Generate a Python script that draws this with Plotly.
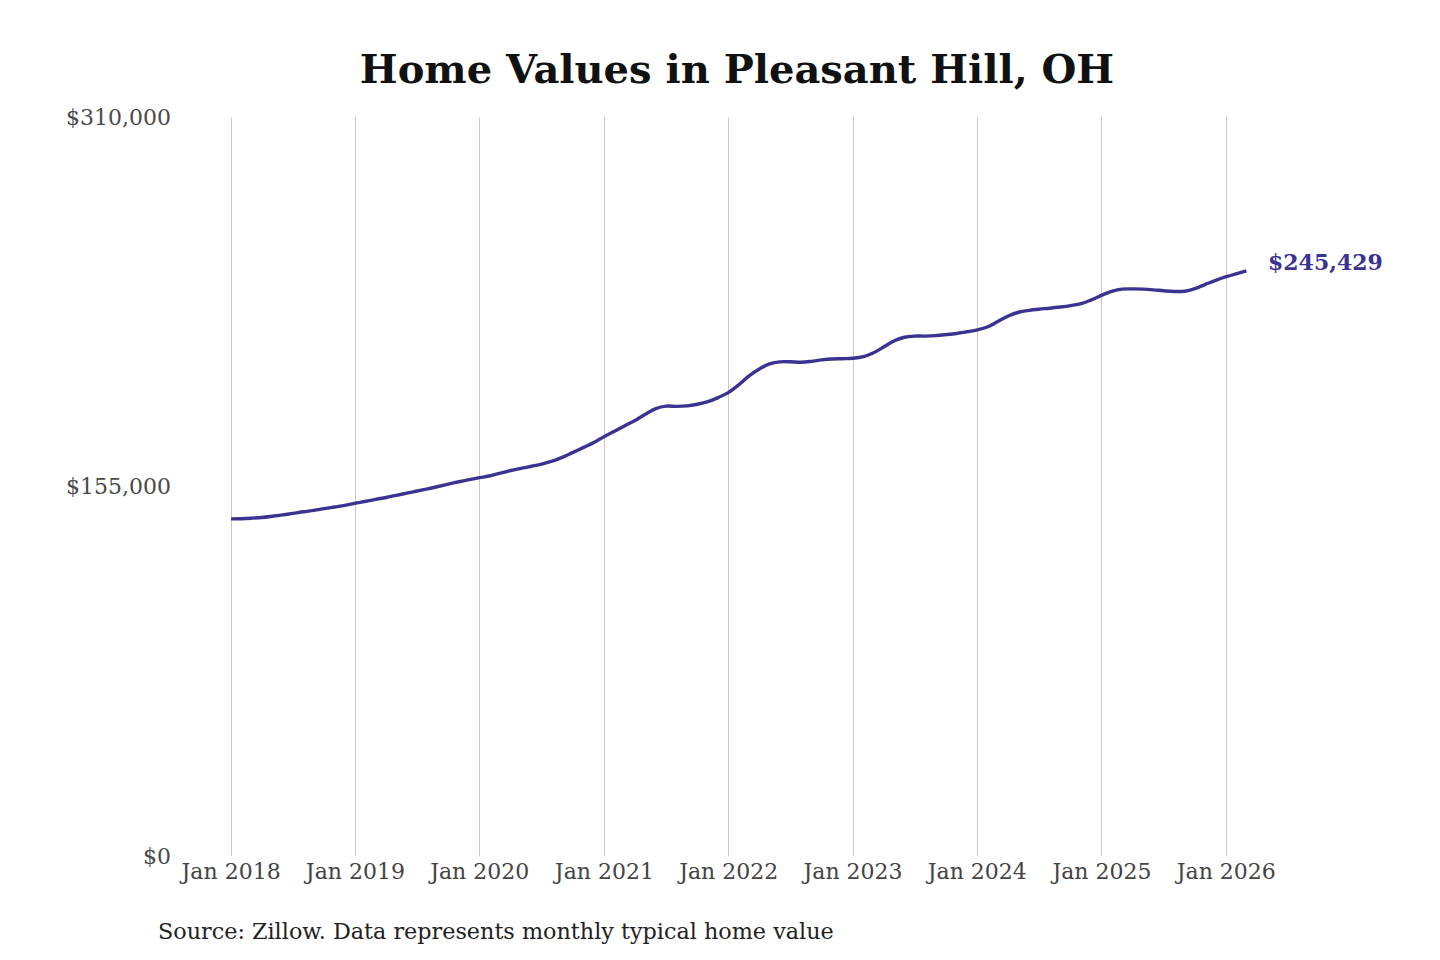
import pandas as pd
import plotly.graph_objects as go

# monthly typical home value, Jan 2018 .. Mar 2026
start_month = "2018-01-01"
values = [
    141400, 141500, 141700, 142000, 142500, 143100, 143700, 144400, 145000, 145700, 146400, 147100,
    148000, 148800, 149600, 150400, 151300, 152200, 153100, 154000, 155000, 156000, 157000, 157900,
    158700, 159500, 160600, 161700, 162600, 163500, 164400, 165600, 167300, 169300, 171400, 173500,
    176000, 178300, 180400, 182700, 185300, 187700, 188700, 188600, 188800, 189500, 190600, 192300,
    194500, 197800, 201300, 204300, 206400, 207300, 207300, 207100, 207500, 208100, 208500, 208600,
    208800, 209500, 211000, 213500, 216000, 217600, 218100, 218100, 218300, 218700, 219200, 219900,
    220700, 222000, 224200, 226500, 228100, 228900, 229400, 229800, 230300, 230900, 231700, 233300,
    235300, 237000, 237800, 237900, 237800, 237500, 237100, 236800, 236900, 238000, 239800, 241500,
    243000, 244300, 245429,
]
dates = pd.date_range(start_month, periods=len(values), freq="MS")

tick_dates = pd.date_range("2018-01-01", "2026-01-01", freq="YS")
tick_labels = [d.strftime("Jan %Y") for d in tick_dates]
y_ticks = [0, 155000, 310000]
y_labels = ["$0", "$155,000", "$310,000"]

title = "Home Values in Pleasant Hill, OH"
source = "Source: Zillow. Data represents monthly typical home value"

font = "DejaVu Serif, serif"
line_color = "#3b3391"

# page body has an 8px margin, so the figure is a bit smaller than the window
W, H = 1432, 952
L, R, T, B = 172, 180, 109, 104

fig = go.Figure()
fig.add_trace(go.Scatter(
    x=dates, y=values, mode="lines",
    line=dict(color=line_color, width=3.4, shape="spline"),
    hoverinfo="skip", showlegend=False,
))

fig.add_annotation(
    x=dates[-1], y=values[-1], text="<b>$" + f"{values[-1]:,}" + "</b>",
    showarrow=False, xanchor="left", yanchor="middle", xshift=20, yshift=9,
    font=dict(family=font, size=22, color=line_color),
)
fig.add_annotation(
    x=(148 - L) / (W - L - R), y=(H - B - 923) / (H - T - B),
    xref="paper", yref="paper", text=source, showarrow=False,
    xanchor="left", yanchor="middle",
    font=dict(family=font, size=22.3, color="#222222"),
)

fig.update_layout(
    width=W, height=H,
    margin=dict(l=L, r=R, t=T, b=B),
    paper_bgcolor="white", plot_bgcolor="white",
    title=dict(text="<b>" + title + "</b>", x=729 / W, xanchor="center", y=1 - 61 / H, yanchor="middle",
               font=dict(family=font, size=40, color="#111111")),
    font=dict(family=font),
)
fig.update_xaxes(
    range=["2017-08-04", "2026-04-10"],
    tickvals=tick_dates, ticktext=tick_labels,
    showgrid=True, gridcolor="#c8c8c8", gridwidth=1,
    showline=False, zeroline=False, ticks="",
    tickfont=dict(family=font, size=22, color="#444444"),
)
fig.update_yaxes(
    range=[0, 310000], tickvals=y_ticks, ticktext=y_labels,
    showgrid=False, zeroline=False, showline=False, ticks="",
    ticklabelstandoff=8,
    tickfont=dict(family=font, size=22, color="#4a4a4a"),
)

fig.write_html("out.html")
